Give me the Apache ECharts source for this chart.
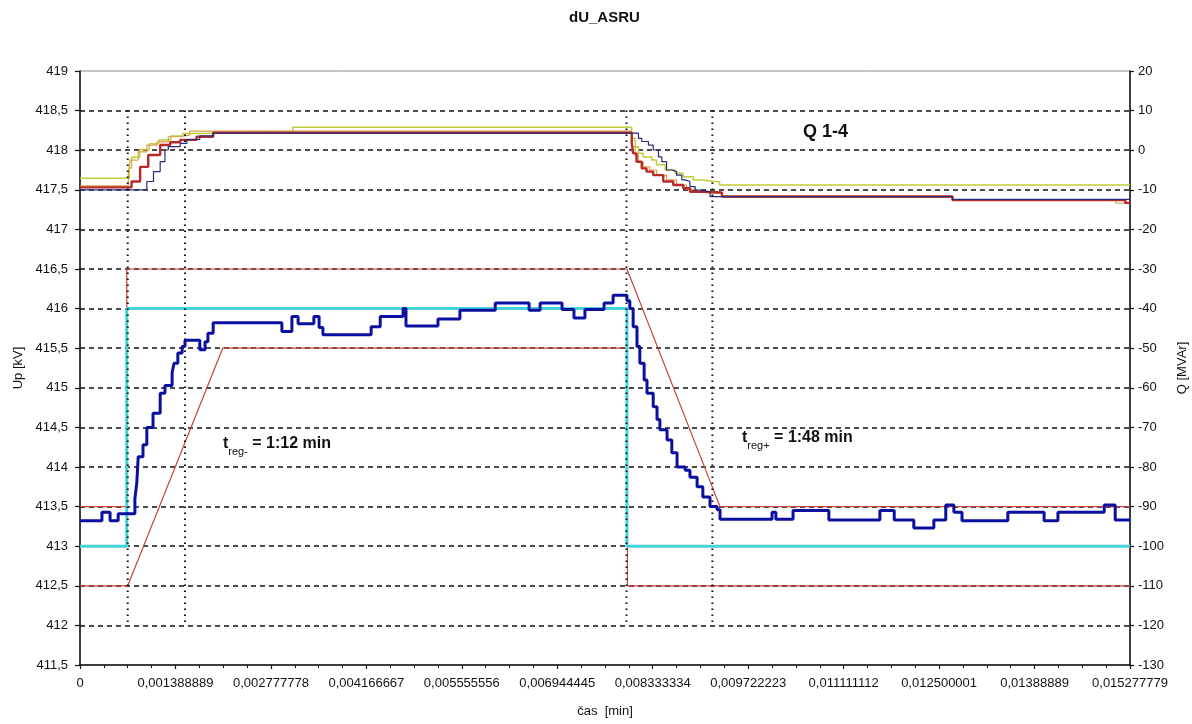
<!DOCTYPE html>
<html>
<head>
<meta charset="utf-8">
<script src="https://cdn.jsdelivr.net/npm/echarts@6/dist/echarts.min.js"></script>
<style>
html,body{margin:0;padding:0;background:#fff;}
#chart{width:1192px;height:724px;}
</style>
</head>
<body>
<div id="chart"></div>
<script>
// x values are time in minutes (0..22); tick labels are the Excel day-fraction strings
const xTickLabels = ['0','0,001388889','0,002777778','0,004166667','0,005555556','0,006944445',
  '0,008333334','0,009722223','0,011111112','0,012500001','0,01388889','0,015277779'];

// Up [kV] measured (blue, step)
const upMeasured = [
  [0,413.32],[0.46,413.43],[0.63,413.32],[0.80,413.41],[1.15,413.6],[1.19,413.8],[1.22,414.13],
  [1.32,414.28],[1.40,414.5],[1.53,414.68],[1.68,414.93],[1.78,415.03],[1.93,415.19],[1.97,415.31],
  [2.05,415.44],[2.14,415.52],[2.20,415.6],[2.51,415.48],[2.62,415.58],[2.68,415.69],[2.79,415.82],
  [4.23,415.71],[4.44,415.9],[4.57,415.81],[4.90,415.9],[5.01,415.76],[5.09,415.67],[6.10,415.77],
  [6.29,415.9],[6.77,416.0],[6.83,415.78],[7.50,415.87],[7.96,415.98],[8.70,416.07],[9.41,415.98],
  [9.64,416.07],[10.10,415.99],[10.35,415.88],[10.58,415.99],[10.98,416.07],[11.17,416.17],
  [11.46,416.1],[11.52,416.0],[11.59,415.77],[11.67,415.52],[11.73,415.31],[11.82,415.1],
  [11.88,414.93],[12.01,414.76],[12.09,414.6],[12.15,414.47],[12.30,414.34],[12.40,414.18],
  [12.51,414.0],[12.68,413.96],[12.78,413.87],[12.93,413.75],[13.05,413.62],[13.20,413.5],
  [13.35,413.46],[13.41,413.34],[14.50,413.43],[14.58,413.34],[14.94,413.45],[15.69,413.33],
  [16.76,413.45],[17.06,413.33],[17.47,413.23],[17.89,413.33],[18.14,413.52],[18.31,413.43],
  [18.48,413.32],[19.44,413.43],[20.20,413.32],[20.49,413.43],[21.46,413.52],[21.69,413.33],[22,413.33]
];
// Up setpoint (cyan)
const upSetpoint = [[0,413],[0.98,413],[0.98,416],[11.46,416],[11.46,413],[22,413]];
// Tolerance band limits (thin red)
const upperLimit = [[0,413.5],[0.98,413.5],[0.98,416.5],[11.46,416.5],[13.41,413.5],[22,413.5]];
const lowerLimit = [[0,412.5],[1.0,412.5],[2.99,415.5],[11.47,415.5],[11.47,412.5],[22,412.5]];

// Q [MVAr] of units 1-4 (step)
const q1 = [ // red
  [0,-9.4],[1.08,-7.9],[1.26,-4.2],[1.43,-1.2],[1.68,1.3],[1.89,2.0],[2.10,2.6],[2.44,3.4],[2.79,4.4],
  [11.56,1.7],[11.59,-0.8],[11.66,-2.9],[11.77,-4.6],[11.87,-5.4],[12.01,-6.3],[12.22,-7.9],[12.43,-8.8],
  [12.64,-9.6],[12.78,-10.5],[12.99,-10.7],[13.45,-11.7],[18.28,-12.6],[21.9,-13.3],[22,-13.3]
];
const q2 = [ // navy
  [0,-10],[1.29,-10],[1.40,-7.9],[1.54,-5.4],[1.68,-2.9],[1.78,0.05],[1.85,0.9],[2.10,1.7],[2.24,2.7],
  [2.51,3.6],[2.79,4.3],[11.70,3.0],[11.77,2.2],[11.91,1.3],[12.01,0.05],[12.12,-1.7],[12.19,-2.9],
  [12.29,-5.0],[12.40,-5.4],[12.50,-6.3],[12.61,-7.5],[12.68,-7.9],[12.78,-9.2],[12.89,-10.1],
  [12.99,-10.5],[13.20,-11.7],[18.28,-12.4],[22,-12.4]
];
const q3 = [ // orange
  [0,-9.0],[1.01,-6.7],[1.05,-2.5],[1.22,-0.4],[1.40,1.3],[1.61,2.1],[1.85,3.4],[2.10,3.8],[2.30,4.8],
  [11.56,0.9],[11.63,-1.2],[11.70,-2.9],[11.80,-4.2],[11.94,-5.0],[12.08,-6.3],[12.29,-7.5],[12.50,-8.8],
  [12.71,-9.9],[12.92,-10.5],[13.06,-11.0],[13.45,-11.9],[18.28,-12.7],[21.7,-13.4],[22,-13.4]
];
const q4 = [ // yellow-green
  [0,-7.1],[1.03,-4.5],[1.08,-1.8],[1.25,0.2],[1.45,1.6],[1.65,2.6],[1.90,3.6],[2.15,4.2],[2.45,4.6],
  [4.46,5.8],[11.56,3.0],[11.63,0.9],[11.70,-0.8],[11.80,-1.7],[11.98,-2.5],[12.08,-3.7],[12.26,-5.0],
  [12.47,-5.8],[12.64,-6.7],[12.85,-7.5],[13.03,-8.0],[13.40,-8.8],[22,-8.8]
];
// Regulation-time markers (dotted verticals), minutes
const markerTimes = [1.0, 2.2, 11.45, 13.25];
const markerSpan = [418.5, 412];

const FONT = 'Liberation Sans, Arial, sans-serif';
const chart = echarts.init(document.getElementById('chart'));

const stepSeries = (name, data, color, width, yIdx, z) => ({
  name, type: 'line', data, step: 'end', yAxisIndex: yIdx, symbol: 'none', z,
  lineStyle: { color, width }, animation: false
});
const plainSeries = (name, data, color, width, yIdx, z, type) => ({
  name, type: 'line', data, yAxisIndex: yIdx, symbol: 'none', z,
  lineStyle: { color, width, type: type || 'solid' }, animation: false
});

const series = [
  stepSeries('Q4', q4, '#C2CC3A', 1.5, 1, 2),
  stepSeries('Q3', q3, '#D9A048', 1.2, 1, 3),
  stepSeries('Q2', q2, '#2A2E78', 1.2, 1, 4),
  stepSeries('Q1', q1, '#B52A2A', 2.4, 1, 3),
  plainSeries('upper', upperLimit, '#C8413C', 1.2, 0, 5),
  plainSeries('lower', lowerLimit, '#C8413C', 1.2, 0, 5),
  plainSeries('setpoint', upSetpoint, '#45D3DA', 3, 0, 6),
  stepSeries('Up', upMeasured, '#0B0FA0', 3, 0, 8)
];
markerTimes.forEach((t, i) => {
  series.push(plainSeries('m' + i, [[t, markerSpan[0]], [t, markerSpan[1]]], '#111', 2, 0, 7, [1.5, 4.5]));
});

chart.setOption({
  animation: false,
  backgroundColor: '#fff',
  title: {
    text: 'dU_ASRU', left: 564, top: 5,
    textStyle: { fontFamily: FONT, fontSize: 15, fontWeight: 'bold', color: '#111' }
  },
  grid: { left: 80, right: 62, top: 71, bottom: 59, show: true, borderColor: '#8a8a8a', borderWidth: 1,
    outerBoundsMode: 'none', containLabel: false },
  xAxis: {
    type: 'value', min: 0, max: 22, interval: 2,
    name: 'čas  [min]', nameLocation: 'middle', nameGap: 40,
    nameTextStyle: { fontFamily: FONT, fontSize: 13, color: '#111' },
    axisLine: { show: true, onZero: false, lineStyle: { color: '#111', width: 1.5 } },
    axisTick: { show: true, length: 4, lineStyle: { color: '#111', width: 1.2 } },
    minorTick: { show: true, splitNumber: 4, length: 3, lineStyle: { color: '#111', width: 1 } },
    splitLine: { show: false },
    axisLabel: {
      fontFamily: FONT, fontSize: 13, color: '#111', margin: 12,
      formatter: v => xTickLabels[Math.round(v / 2)]
    }
  },
  yAxis: [
    {
      type: 'value', min: 411.5, max: 419, interval: 0.5, position: 'left',
      name: 'Up [kV]', nameLocation: 'middle', nameGap: 55,
      nameTextStyle: { fontFamily: FONT, fontSize: 13, color: '#111' },
      axisLine: { show: true, onZero: false, lineStyle: { color: '#111', width: 1.5 } },
      axisTick: { show: true, length: 5, lineStyle: { color: '#111', width: 1.2 } },
      splitLine: { show: true, showMinLine: false, showMaxLine: false,
        lineStyle: { color: '#111', width: 1.5, type: [5, 4] } },
      axisLabel: {
        fontFamily: FONT, fontSize: 13, color: '#111', margin: 12,
        formatter: v => String(Math.round(v * 10) / 10).replace('.', ',')
      }
    },
    {
      type: 'value', min: -130, max: 20, interval: 10, position: 'right',
      name: 'Q [MVAr]', nameLocation: 'middle', nameGap: 46,
      nameTextStyle: { fontFamily: FONT, fontSize: 13, color: '#111' },
      axisLine: { show: true, onZero: false, lineStyle: { color: '#111', width: 1.5 } },
      axisTick: { show: true, length: 4, lineStyle: { color: '#111', width: 1.2 } },
      splitLine: { show: false },
      axisLabel: { fontFamily: FONT, fontSize: 13, color: '#111', margin: 8 }
    }
  ],
  graphic: [
    { type: 'text', left: 803, top: 123, z: 100,
      style: { text: 'Q 1-4', font: 'bold 18px ' + FONT, fill: '#111' } },
    { type: 'text', left: 223, top: 436, z: 100,
      style: {
        text: '{b|t}{s|reg-}{b| = 1:12 min}',
        rich: {
          b: { font: 'bold 16px ' + FONT, fill: '#111', lineHeight: 22, verticalAlign: 'top' },
          s: { font: '11px ' + FONT, fill: '#111', lineHeight: 22, padding: [10, 0, 0, 0], verticalAlign: 'top' }
        }
      } },
    { type: 'text', left: 742, top: 430, z: 100,
      style: {
        text: '{b|t}{s|reg+}{b| = 1:48 min}',
        rich: {
          b: { font: 'bold 16px ' + FONT, fill: '#111', lineHeight: 22, verticalAlign: 'top' },
          s: { font: '11px ' + FONT, fill: '#111', lineHeight: 22, padding: [10, 0, 0, 0], verticalAlign: 'top' }
        }
      } }
  ],
  series
});
</script>
</body>
</html>
